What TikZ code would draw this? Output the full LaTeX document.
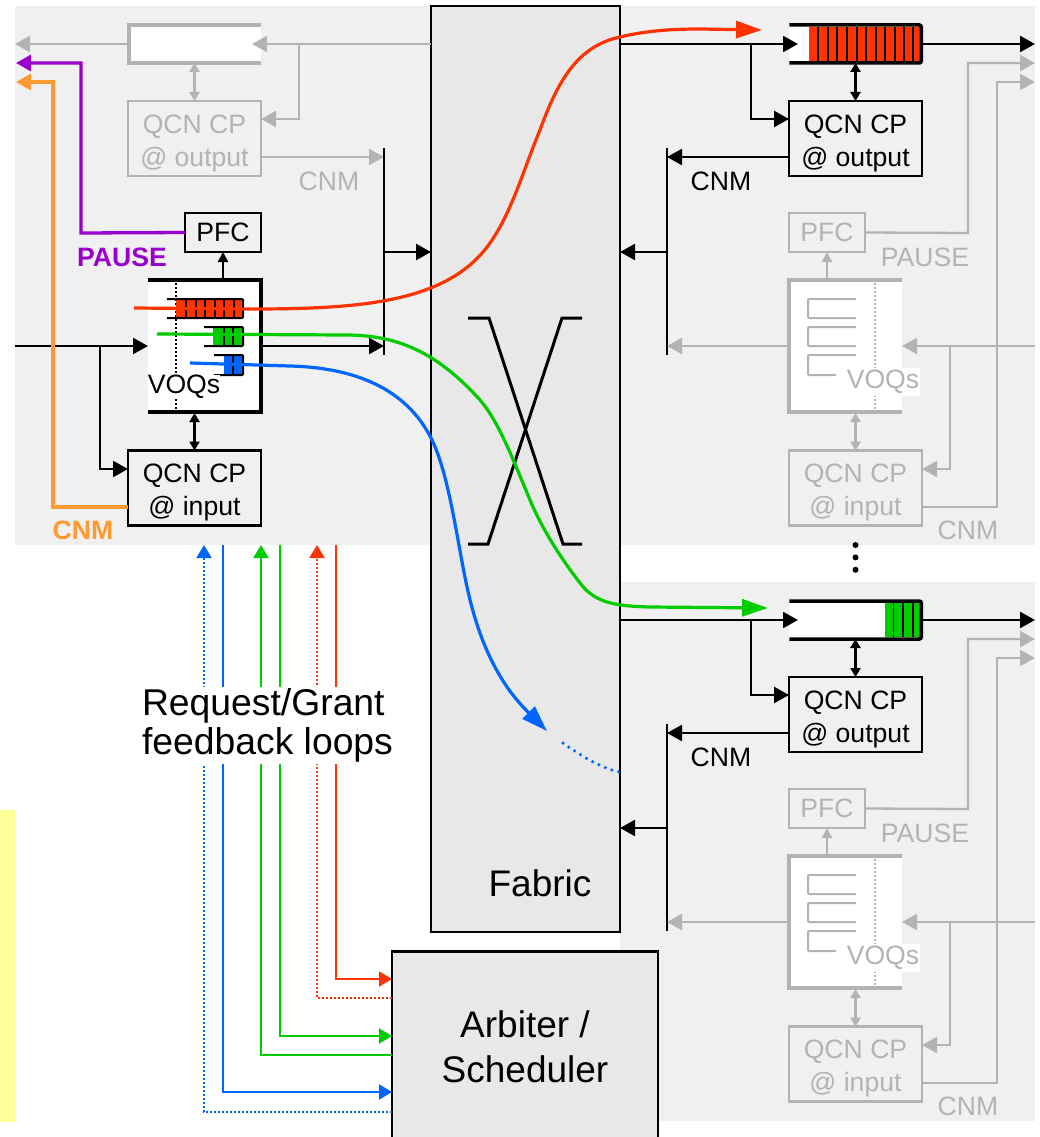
\documentclass[tikz,border=0pt]{standalone}
\usepackage{fontspec}
\setmainfont{Liberation Sans}
\usetikzlibrary{arrows.meta,positioning}
\definecolor{panelgray}{HTML}{F0F0F0}
\definecolor{fabricgray}{HTML}{E8E8E8}
\definecolor{fade}{HTML}{B3B3B3}
\definecolor{qred}{HTML}{FF3300}
\definecolor{qgreen}{HTML}{00CC00}
\definecolor{qblue}{HTML}{0066FF}
\definecolor{pausec}{HTML}{9900CC}
\definecolor{cnmc}{HTML}{FF9933}
\definecolor{notec}{HTML}{FFFF99}
\newcommand{\cplines}[2]{\rule{0pt}{28pt}#1\\#2}

\begin{document}
\begin{tikzpicture}[
    x=1pt, y=-1pt,
    panel/.style={fill=panelgray, minimum width=415, minimum height=539, inner sep=0, outer sep=0},
    cp/.style={draw=black, line width=2.3, fill=panelgray, minimum width=133, minimum height=75, inner sep=0, outer sep=0, align=center, font=\fontsize{26.6}{33}\selectfont},
    cpfade/.style={cp, draw=fade, text=fade},
    pfc/.style={cp, minimum width=76, minimum height=39},
    pfcfade/.style={cpfade, minimum width=76, minimum height=39},
    qbody/.style={fill=white, minimum width=132, minimum height=38, inner sep=0, outer sep=0},
    voq/.style={fill=white, minimum width=113, minimum height=132, inner sep=0, outer sep=0},
    big/.style={draw=black, line width=2.5, fill=fabricgray, inner sep=0, outer sep=0, align=center},
    lbl/.style={font=\fontsize{26.6}{33}\selectfont, inner sep=0},
    lblbold/.style={lbl, font=\fontsize{26.6}{33}\selectfont\bfseries},
    large/.style={font=\fontsize{37}{45}\selectfont, align=center, inner sep=0},
    arr/.style={draw=black, line width=2.3, -{Triangle[length=15pt,width=16pt]}},
    arrfade/.style={arr, draw=fade},
    pfcarr/.style={arr, -{Triangle[length=10pt,width=10pt]}},
    dbl/.style={draw=black, line width=2.3, {Triangle[length=9pt,width=10pt]}-{Triangle[length=9pt,width=10pt]}},
    dblfade/.style={dbl, draw=fade},
    qline/.style={draw=black, line width=3.5},
    qlinefade/.style={draw=fade, line width=3.3},
    cell/.style={draw=black, line width=2},
    bracket/.style={draw=black, line width=2, rounded corners=1},
    bracketfade/.style={bracket, draw=fade},
    flow/.style={line width=3.2, -{Triangle[length=26pt,width=17pt]}},
    loopwire/.style={line width=2},
    loop/.style={loopwire, -{Triangle[length=13pt,width=15pt]}},
    loopdot/.style={loop, dotted}
]
    \useasboundingbox (0,0) rectangle (1040,1137);

    % Panels
    \node[panel] (panelIn) at (222.5,275.5) {};
    \node[panel] (panelOutA) at (827.5,275.5) {};
    \node[panel] (panelOutB) at (827.5,851) {};
    \node[fill=notec, minimum width=15, minimum height=312, inner sep=0] (note) at (7.5,966) {};

    % Fabric
    \node[big, minimum width=189, minimum height=926] (fabric) at (525.5,469) {};
    \node[large] (fabricLbl) at (540,883) {Fabric};
    \coordinate (xa) at (468,318);
    \coordinate (xb) at (489,318);
    \coordinate (xc) at (562,318);
    \coordinate (xd) at (582,318);
    \coordinate (xe) at (468,544);
    \coordinate (xf) at (488,544);
    \coordinate (xg) at (563,544);
    \coordinate (xh) at (582,544);
    \draw[line width=3] (xa) -- (xb) -- (xg) -- (xh);
    \draw[line width=3] (xd) -- (xc) -- (xf) -- (xe);

    % Input port, faded output queue
    \node[qbody] (qIn) at (195,44) {};
    \draw[qlinefade] (qIn.north east) -- (qIn.north west) -- (qIn.south west) -- (qIn.south east);
    \node[cpfade] (cpInOut) at (194.5,138.5) {\cplines{QCN CP}{@ output}};
    \coordinate (fabIn) at (431,44);
    \coordinate (tapIn) at (299,44);
    \coordinate (tapInB) at (299,119);
    \coordinate (qInTip) at (252,44);
    \coordinate (qInOut) at (15,44);
    \coordinate (cnmIn) at (261,157);
    \coordinate (barInT) at (384,148);
    \coordinate (barInB) at (384,355);
    \coordinate (barInM) at (384,252);
    \draw[arrfade] (fabIn) -- (qInTip);
    \draw[arrfade] (tapIn) -- (tapInB) -- (cpInOut.east |- tapInB);
    \draw[arrfade] (qIn.west) -- (qInOut);
    \draw[dblfade] (qIn.south -| cpInOut.north) -- (cpInOut.north);
    \draw[arrfade] (cnmIn) -- (cnmIn -| barInT);
    \node[lbl, text=fade] (cnmInLbl) at (329,181) {CNM};
    \draw[line width=2.5] (barInT) -- (barInB);
    \draw[arr] (barInM) -- (barInM -| fabric.west);

    % Input port, VOQ block
    \node[voq] (voqIn) at (204.5,346) {};
    \draw[qline] (voqIn.north west) -- (voqIn.north east) -- (voqIn.south east) -- (voqIn.south west);
    \coordinate (dotInT) at (176,283);
    \coordinate (dotInB) at (176,410);
    \draw[black, line width=2, dotted] (dotInT) -- (dotInB);
    \fill[qred] (176,299) rectangle (243,317);
    \fill[qgreen] (213,327) rectangle (243,345);
    \fill[qblue] (224,356) rectangle (243,374);
    \foreach \x in {186,195.5,205,214.5,224,233.5} \draw[cell] (\x,299) -- (\x,317);
    \foreach \x in {223.5,233} \draw[cell] (\x,327) -- (\x,345);
    \draw[cell] (233,356) -- (233,374);
    \draw[bracket] (167,299) -- (243,299) -- (243,318) -- (167,318);
    \draw[bracket] (204,327) -- (243,327) -- (243,346) -- (204,346);
    \draw[bracket] (214,355) -- (243,355) -- (243,375) -- (214,375);
    \node[lbl, fill=white] (voqInLbl) at (184,387) {VOQs};
    \node[pfc] (pfcIn) at (223,232.5) {PFC};
    \node[cp] (cpIn) at (194.5,488) {\cplines{QCN CP}{@ input}};
    \coordinate (inLink) at (15,346);
    \coordinate (tapVoq) at (100,346);
    \coordinate (tapVoqB) at (100,469);
    \draw[arr] (inLink) -- (voqIn.west);
    \draw[arr] (tapVoq) -- (tapVoqB) -- (cpIn.west |- tapVoqB);
    \draw[arr] (voqIn.east) -- (voqIn.east -| barInT);
    \coordinate (dblInT) at (194.5,413);
    \draw[dbl] (dblInT) -- (cpIn.north);
    \draw[pfcarr] (pfcIn.south |- voqIn.north) -- (pfcIn.south);

    % PAUSE and CNM going back upstream
    \coordinate (pauseA) at (81,233);
    \coordinate (pauseB) at (81,63);
    \coordinate (pauseC) at (16,63);
    \coordinate (cnmA) at (53,507);
    \coordinate (cnmB) at (53,82);
    \coordinate (cnmC) at (16,82);
    \draw[pausec, line width=3.3, -{Triangle[length=15pt,width=16pt]}] (pfcIn.west) -- (pauseA) -- (pauseB) -- (pauseC);
    \draw[cnmc, line width=3.3, -{Triangle[length=15pt,width=16pt]}] (cnmA -| cpIn.west) -- (cnmA) -- (cnmB) -- (cnmC);
    \node[lblbold, text=pausec] (pauseLbl) at (122,257) {PAUSE};
    \node[lblbold, text=cnmc] (cnmLbl) at (83,530) {CNM};

    % Output port 1
    \node[qbody] (qOutA) at (855.3,44) {};
    \fill[qred] (808.5,27) rectangle (921,61);
    \foreach \x in {818.3,828,837.3,847,856.7,866.3,875.7,885,894.7,904,913.3} \draw[line width=1.7] (\x,27) -- (\x,61);
    \draw[qline, rounded corners=2] (qOutA.north west) -- (qOutA.north east) -- (qOutA.south east) -- (qOutA.south west);
    \node[cp] (cpOutA) at (855.5,138.5) {\cplines{QCN CP}{@ output}};
    \coordinate (fabOutA) at (620,44);
    \coordinate (qTipA) at (798,44);
    \coordinate (tapA) at (751,44);
    \coordinate (tapAB) at (751,119);
    \coordinate (linkA) at (1035,44);
    \coordinate (cnmOutA) at (789,157);
    \coordinate (barAT) at (667,148);
    \coordinate (barAB) at (667,355);
    \coordinate (barAM) at (667,252);
    \draw[arr] (fabOutA) -- (qTipA);
    \draw[arr] (tapA) -- (tapAB) -- (cpOutA.west |- tapAB);
    \draw[arr] (qOutA.east) -- (linkA);
    \draw[dbl] (qOutA.south -| cpOutA.north) -- (cpOutA.north);
    \draw[arr] (cnmOutA) -- (cnmOutA -| barAT);
    \node[lbl] (cnmALbl) at (721,181) {CNM};
    \draw[line width=2.5] (barAT) -- (barAB);
    \draw[arr] (barAM) -- (barAM -| fabric.east);

    % Output port 1, faded input side
    \node[pfcfade] (pfcA) at (827,232.5) {PFC};
    \node[voq] (voqA) at (845.5,346) {};
    \draw[qlinefade] (voqA.north east) -- (voqA.north west) -- (voqA.south west) -- (voqA.south east);
    \draw[bracketfade] (856,299) -- (808,299) -- (808,318) -- (856,318);
    \draw[bracketfade] (856,327) -- (808,327) -- (808,346) -- (856,346);
    \draw[bracketfade] (856,355) -- (808,355) -- (808,375) -- (836,375);
    \coordinate (dotAT) at (875,283);
    \coordinate (dotAB) at (875,410);
    \draw[fade, line width=2, dotted] (dotAT) -- (dotAB);
    \node[lbl, text=fade, fill=white, minimum width=73, minimum height=28] (voqALbl) at (883,382) {VOQs};
    \node[cpfade] (cpInA) at (855.5,488) {\cplines{QCN CP}{@ input}};
    \coordinate (inA) at (1035,346);
    \coordinate (tapIA) at (950,346);
    \coordinate (tapIAB) at (950,469);
    \coordinate (pfcAa) at (968,233);
    \coordinate (pfcAb) at (968,63);
    \coordinate (pfcAc) at (1035,63);
    \coordinate (cnmAa) at (997,507);
    \coordinate (cnmAb) at (997,82);
    \coordinate (cnmAc) at (1035,82);
    \draw[arrfade] (inA) -- (voqA.east);
    \draw[arrfade] (tapIA) -- (tapIAB) -- (cpInA.east |- tapIAB);
    \draw[arrfade] (voqA.west) -- (voqA.west -| barAT);
    \draw[pfcarr, draw=fade] (pfcA.south |- voqA.north) -- (pfcA.south);
    \coordinate (dblAT) at (855.5,413);
    \draw[dblfade] (dblAT) -- (cpInA.north);
    \draw[arrfade] (pfcA.east) -- (pfcAa) -- (pfcAb) -- (pfcAc);
    \draw[arrfade] (cnmAa -| cpInA.east) -- (cnmAa) -- (cnmAb) -- (cnmAc);
    \node[lbl, text=fade] (pauseALbl) at (925,257) {PAUSE};
    \node[lbl, text=fade] (cnmAFade) at (968,530) {CNM};

    % Dots between the ports
    \node[circle, fill=black, inner sep=0, minimum size=6] (dotA) at (855.5,545) {};
    \node[circle, fill=black, inner sep=0, minimum size=6, below=6pt of dotA] (dotB) {};
    \node[circle, fill=black, inner sep=0, minimum size=6, below=6pt of dotB] (dotC) {};

    % Output port 2
    \node[qbody] (qOutB) at (855.3,620) {};
    \fill[qgreen] (884.7,603) rectangle (921,637);
    \foreach \x in {893.5,903.3,913.3} \draw[line width=1.7] (\x,603) -- (\x,637);
    \draw[qline, rounded corners=2] (qOutB.north west) -- (qOutB.north east) -- (qOutB.south east) -- (qOutB.south west);
    \node[cp] (cpOutB) at (855.5,714.5) {\cplines{QCN CP}{@ output}};
    \coordinate (fabOutB) at (620,620);
    \coordinate (qTipB) at (798,620);
    \coordinate (tapB) at (751,620);
    \coordinate (tapBB) at (751,695);
    \coordinate (linkB) at (1035,620);
    \coordinate (cnmOutB) at (789,733);
    \coordinate (barBT) at (667,724);
    \coordinate (barBB) at (667,931);
    \coordinate (barBM) at (667,828);
    \draw[arr] (fabOutB) -- (qTipB);
    \draw[arr] (tapB) -- (tapBB) -- (cpOutB.west |- tapBB);
    \draw[arr] (qOutB.east) -- (linkB);
    \draw[dbl] (qOutB.south -| cpOutB.north) -- (cpOutB.north);
    \draw[arr] (cnmOutB) -- (cnmOutB -| barBT);
    \node[lbl] (cnmBLbl) at (721,757) {CNM};
    \draw[line width=2.5] (barBT) -- (barBB);
    \draw[arr] (barBM) -- (barBM -| fabric.east);

    % Output port 2, faded input side
    \node[pfcfade] (pfcB) at (827,808.5) {PFC};
    \node[voq] (voqB) at (845.5,922) {};
    \draw[qlinefade] (voqB.north east) -- (voqB.north west) -- (voqB.south west) -- (voqB.south east);
    \draw[bracketfade] (856,875) -- (808,875) -- (808,894) -- (856,894);
    \draw[bracketfade] (856,903) -- (808,903) -- (808,922) -- (856,922);
    \draw[bracketfade] (856,931) -- (808,931) -- (808,951) -- (836,951);
    \coordinate (dotBT) at (875,859);
    \coordinate (dotBB) at (875,986);
    \draw[fade, line width=2, dotted] (dotBT) -- (dotBB);
    \node[lbl, text=fade, fill=white, minimum width=73, minimum height=28] (voqBLbl) at (883,958) {VOQs};
    \node[cpfade] (cpInB) at (855.5,1064) {\cplines{QCN CP}{@ input}};
    \coordinate (inB) at (1035,922);
    \coordinate (tapIB) at (950,922);
    \coordinate (tapIBB) at (950,1045);
    \coordinate (pfcBa) at (968,809);
    \coordinate (pfcBb) at (968,639);
    \coordinate (pfcBc) at (1035,639);
    \coordinate (cnmBa) at (997,1083);
    \coordinate (cnmBb) at (997,658);
    \coordinate (cnmBc) at (1035,658);
    \draw[arrfade] (inB) -- (voqB.east);
    \draw[arrfade] (tapIB) -- (tapIBB) -- (cpInB.east |- tapIBB);
    \draw[arrfade] (voqB.west) -- (voqB.west -| barBT);
    \draw[pfcarr, draw=fade] (pfcB.south |- voqB.north) -- (pfcB.south);
    \coordinate (dblBT) at (855.5,989);
    \draw[dblfade] (dblBT) -- (cpInB.north);
    \draw[arrfade] (pfcB.east) -- (pfcBa) -- (pfcBb) -- (pfcBc);
    \draw[arrfade] (cnmBa -| cpInB.east) -- (cnmBa) -- (cnmBb) -- (cnmBc);
    \node[lbl, text=fade] (pauseBLbl) at (925,833) {PAUSE};
    \node[lbl, text=fade] (cnmBFade) at (968,1106) {CNM};

    % Arbiter and feedback loops
    \node[big, minimum width=266, minimum height=190] (arbiter) at (525,1046.5) {};
    \node[large] (arbiterLbl) at (525,1047) {Arbiter /\\Scheduler};
    \coordinate (blueD) at (204,545);
    \coordinate (blueS) at (223,545);
    \coordinate (greenD) at (261,545);
    \coordinate (greenS) at (280,545);
    \coordinate (redD) at (317,545);
    \coordinate (redS) at (336,545);
    \coordinate (blueDb) at (204,1112);
    \coordinate (blueSb) at (223,1092);
    \coordinate (greenDb) at (261,1055);
    \coordinate (greenSb) at (280,1036);
    \coordinate (redDb) at (317,998);
    \coordinate (redSb) at (336,979);
    \draw[qblue, loopdot] (blueDb -| arbiter.west) -- (blueDb) -- (blueD);
    \draw[qblue, loop] (blueS) -- (blueSb) -- (blueSb -| arbiter.west);
    \draw[qgreen, loop] (greenDb -| arbiter.west) -- (greenDb) -- (greenD);
    \draw[qgreen, loop] (greenS) -- (greenSb) -- (greenSb -| arbiter.west);
    \draw[qred, loopdot] (redDb -| arbiter.west) -- (redDb) -- (redD);
    \draw[qred, loop] (redS) -- (redSb) -- (redSb -| arbiter.west);
    \node[large, font=\fontsize{37.3}{39}\selectfont, align=left, fill=white, minimum width=250, minimum height=77] (loopLbl) at (267.5,725) {Request/Grant\\feedback loops};

    % Flows through the fabric
    \coordinate (redA) at (134,308);
    \coordinate (redB) at (762,30);
    \coordinate (greenA) at (157,334);
    \coordinate (greenB) at (768,608);
    \coordinate (blueA) at (190,363);
    \coordinate (blueB) at (547,731);
    \coordinate (blueC) at (563,743);
    \coordinate (blueE) at (620,772);
    \draw[qred, flow] (redA) -- (250,309) .. controls (360,309) and (448,303) .. (490,243) .. controls (512,212) and (524,168) .. (540,130) .. controls (558,80) and (578,46) .. (620,37) .. controls (645,31) and (670,29) .. (700,29) -- (redB);
    \draw[qgreen, flow] (greenA) -- (345,335) .. controls (395,335) and (435,350) .. (480,400) .. controls (500,423) and (515,465) .. (533,507) .. controls (545,533) and (560,557) .. (580,583) .. controls (595,603) and (615,606) .. (650,607) -- (greenB);
    \draw[qblue, flow] (blueA) -- (290,366) .. controls (365,368) and (410,395) .. (432,440) .. controls (447,471) and (455,525) .. (463,567) .. controls (471,610) and (482,650) .. (507,687) .. controls (518,703) and (532,716) .. (blueB);
    \draw[qblue, line width=3.5, line cap=round, dash pattern=on 0pt off 7pt] (blueC) .. controls (580,755) and (600,768) .. (blueE);
\end{tikzpicture}
\end{document}
